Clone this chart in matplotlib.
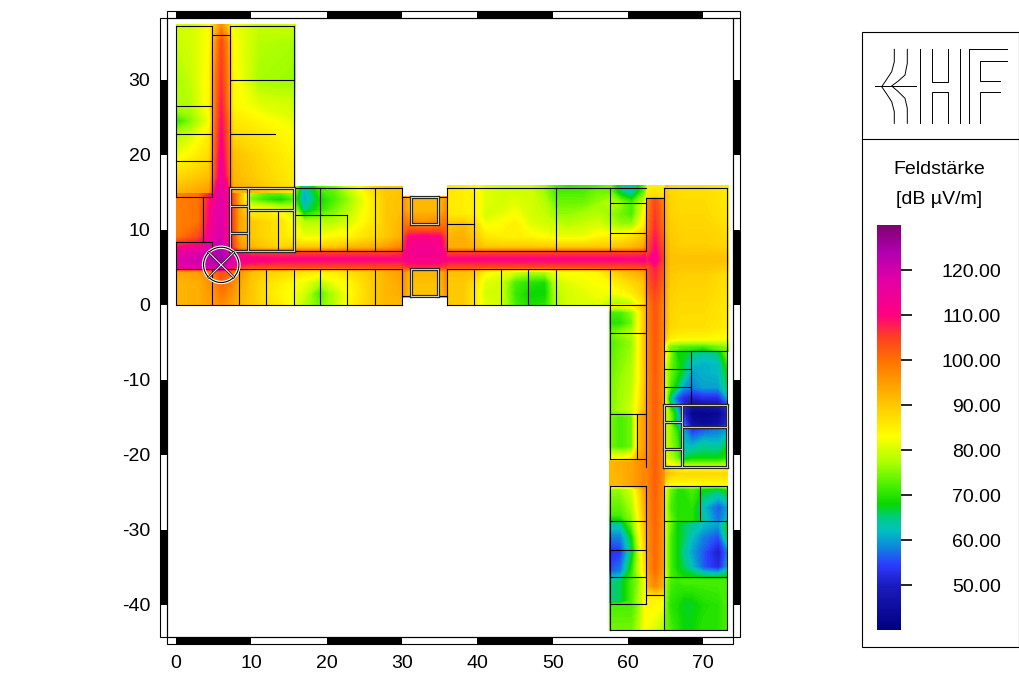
import numpy as np
import matplotlib
matplotlib.use("Agg")
import matplotlib.pyplot as plt
from matplotlib.colors import LinearSegmentedColormap, Normalize
from matplotlib.cm import ScalarMappable
from matplotlib.patches import Rectangle, Circle

plt.rcParams["font.family"] = ["Liberation Sans", "DejaVu Sans"]
plt.rcParams["axes.unicode_minus"] = False

# ----- field strength in dB uV/m, one block per building part -----
north_x = [0, 2, 4.4, 5.2, 6, 6.8, 7.6, 11, 15.8]
north_y = [37.4, 35, 30, 26.5, 24.5, 22.5, 20, 17, 15]
north_db = [
    [80, 80, 83, 90, 96, 90, 82, 79, 80],
    [79, 80, 83, 95, 104, 97, 83, 78, 77],
    [77, 79, 84, 98, 106, 99, 84, 77, 76],
    [78, 78, 84, 99, 108, 100, 84, 81, 80],
    [70, 75, 82, 100, 109, 102, 86, 84, 81],
    [78, 80, 85, 101, 110, 103, 88, 86, 83],
    [81, 84, 87, 102, 112, 104, 91, 88, 84],
    [88, 89, 91, 104, 114, 106, 92, 89, 85],
    [92, 93, 95, 110, 117, 112, 93, 91, 86],
]

west_x = [0, 3, 5, 6, 7, 8.4, 10, 12, 14, 15.6, 17, 19, 21, 23, 26.4, 28, 30]
west_y = [15.8, 14, 12.6, 11, 9, 7.6, 6.9, 6, 5, 4.4, 3, 1.5, 0]
west_db = [
    [97, 100, 110, 116, 108, 93, 80, 76, 78, 80, 62, 72, 74, 80, 88, 90, 90],
    [98, 100, 112, 118, 110, 93, 74, 70, 68, 72, 60, 68, 72, 76, 86, 90, 91],
    [98, 100, 114, 118, 110, 94, 84, 84, 82, 80, 64, 70, 74, 78, 86, 90, 91],
    [98, 100, 115, 118, 110, 94, 90, 88, 86, 82, 78, 78, 78, 80, 86, 90, 92],
    [99, 104, 116, 119, 110, 94, 90, 88, 86, 84, 82, 82, 84, 84, 88, 90, 93],
    [110, 112, 120, 122, 112, 96, 92, 90, 88, 90, 90, 90, 90, 92, 93, 95, 98],
    [116, 118, 122, 124, 118, 108, 105, 105, 105, 105, 105, 105, 105, 105, 105, 105, 106],
    [118, 120, 123, 125, 120, 114, 112, 111, 110, 110, 110, 110, 110, 110, 110, 110, 110],
    [116, 118, 120, 122, 114, 106, 104, 104, 104, 104, 104, 104, 104, 104, 104, 104, 104],
    [94, 95, 100, 104, 102, 96, 91, 89, 88, 87, 86, 85, 85, 87, 90, 93, 95],
    [92, 93, 97, 101, 99, 94, 90, 87, 85, 83, 82, 78, 82, 84, 90, 92, 94],
    [92, 93, 96, 99, 97, 93, 90, 86, 84, 82, 80, 72, 78, 83, 90, 92, 93],
    [92, 93, 95, 97, 95, 92, 90, 87, 85, 82, 78, 74, 78, 84, 90, 92, 92],
]

link_x = [30, 31, 33, 35, 36]
link_y = [14.4, 12.5, 10.8, 9, 7.6, 6.9, 6, 5, 4.4, 3, 1]
link_db = [
    [96, 92, 92, 92, 96],
    [97, 92, 92, 92, 97],
    [100, 98, 96, 98, 100],
    [103, 110, 111, 110, 103],
    [105, 112, 113, 112, 105],
    [108, 113, 113, 113, 108],
    [110, 112, 112, 112, 110],
    [105, 106, 107, 106, 105],
    [98, 92, 92, 92, 98],
    [97, 91, 91, 91, 97],
    [96, 91, 91, 91, 96],
]

east_x = [36, 38, 39.6, 41, 43, 45, 47, 49, 50.4, 52, 54, 56, 57.6, 59, 60.5, 62, 63]
east_y = [15.9, 15, 13.5, 12, 10.7, 9, 7.6, 6.9, 6, 5, 4.4, 3, 1.5, 0]
east_db = [
    [86, 85, 84, 81, 80, 80, 80, 76, 72, 70, 71, 72, 74, 65, 62, 72, 80],
    [86, 85, 84, 81, 80, 80, 80, 76, 72, 72, 72, 74, 74, 66, 62, 72, 82],
    [86, 85, 85, 81, 80, 81, 80, 78, 74, 74, 74, 76, 78, 76, 72, 80, 90],
    [86, 85, 85, 80, 81, 83, 80, 79, 76, 76, 77, 78, 76, 74, 72, 82, 92],
    [90, 91, 88, 82, 83, 85, 81, 80, 79, 78, 79, 80, 78, 76, 76, 84, 94],
    [92, 93, 90, 86, 85, 85, 84, 83, 82, 82, 82, 84, 85, 85, 87, 90, 98],
    [93, 93, 92, 90, 90, 90, 90, 90, 90, 90, 90, 90, 90, 91, 92, 94, 103],
    [105, 105, 105, 105, 105, 105, 105, 105, 105, 105, 105, 105, 105, 105, 105, 105, 108],
    [110, 110, 110, 110, 110, 110, 110, 110, 110, 110, 110, 110, 110, 110, 110, 111, 112],
    [104, 104, 104, 104, 104, 104, 104, 104, 104, 104, 104, 104, 104, 104, 104, 104, 106],
    [91, 91, 90, 84, 82, 80, 78, 78, 82, 83, 83, 84, 88, 90, 92, 94, 101],
    [90, 90, 87, 81, 80, 72, 70, 69, 79, 81, 82, 83, 84, 86, 88, 90, 100],
    [90, 90, 86, 80, 80, 71, 68, 68, 78, 80, 81, 82, 82, 83, 85, 89, 100],
    [90, 90, 86, 81, 80, 72, 69, 70, 77, 80, 81, 81, 77, 76, 78, 85, 100],
]

hall_x = [64.8, 65.5, 67, 70, 73.3]
hall_y = [15.9, 12, 8, 6, 4, -3, -4.5, -5.5, -6.2]
hall_db = [
    [92, 88, 87, 87, 85],
    [93, 89, 88, 88, 86],
    [95, 90, 89, 89, 88],
    [96, 91, 91, 91, 91],
    [95, 90, 89, 89, 87],
    [94, 88, 87, 87, 85],
    [92, 85, 84, 84, 83],
    [85, 75, 73, 72, 76],
    [85, 74, 70, 66, 74],
]

corridor_x = [62.4, 63.6, 64.8]
corridor_y = [15.9, 14.3, 14, 10, 7, 6, 5, 0, -10, -20, -22, -30, -35, -37.5, -38.7, -39, -43.4]
corridor_db = [
    [84, 85, 84],
    [87, 88, 87],
    [96, 104, 97],
    [98, 107, 99],
    [103, 110, 103],
    [108, 112, 104],
    [103, 108, 102],
    [97, 103, 97],
    [96, 102, 96],
    [96, 102, 96],
    [97, 102, 96],
    [95, 101, 95],
    [94, 101, 94],
    [92, 97, 92],
    [86, 88, 86],
    [85, 85, 84],
    [82, 80, 76],
]

south_x = [57.6, 59, 60.5, 61.5, 62.4]
south_y = [0, -1, -2.5, -3.8, -5, -10, -14, -15, -19, -20.6, -21, -24, -24.6, -28, -29.2,
           -31, -33, -35.5, -37, -39.5, -40, -43.4]
south_db = [
    [85, 84, 85, 88, 93],
    [72, 72, 76, 84, 92],
    [70, 70, 74, 84, 92],
    [74, 76, 78, 84, 92],
    [72, 74, 76, 84, 92],
    [74, 76, 78, 84, 92],
    [75, 77, 80, 86, 93],
    [74, 72, 74, 92, 96],
    [74, 72, 74, 92, 96],
    [84, 84, 86, 94, 97],
    [92, 93, 94, 96, 98],
    [92, 92, 94, 96, 98],
    [76, 76, 80, 88, 96],
    [72, 72, 76, 85, 94],
    [64, 64, 74, 84, 93],
    [58, 58, 68, 82, 92],
    [53, 54, 66, 80, 90],
    [56, 58, 70, 80, 88],
    [65, 66, 72, 76, 83],
    [65, 66, 72, 78, 84],
    [72, 72, 72, 76, 84],
    [74, 74, 74, 78, 84],
]

rooms_x = [64.8, 65.6, 66.5, 67.4, 68.5, 70, 72, 73.2]
rooms_y = [-6.2, -8, -9, -11, -12.5, -13.4, -14.5, -16, -16.8, -18.5, -20.5, -21.5, -22.5,
           -24, -24.6, -27, -28.7, -29.2, -31, -33, -35, -36.2, -36.8, -40, -43.4]
rooms_db = [
    [90, 76, 68, 68, 66, 64, 66, 76],
    [82, 74, 70, 66, 62, 61, 62, 70],
    [80, 74, 70, 66, 60, 61, 62, 68],
    [82, 72, 66, 60, 58, 60, 60, 66],
    [84, 64, 56, 52, 50, 52, 52, 60],
    [86, 68, 60, 52, 46, 47, 48, 54],
    [82, 74, 65, 52, 42, 42, 43, 50],
    [80, 76, 64, 58, 46, 44, 46, 52],
    [80, 76, 70, 60, 54, 56, 58, 60],
    [80, 76, 72, 62, 60, 63, 62, 66],
    [82, 78, 74, 66, 68, 68, 68, 70],
    [88, 84, 82, 78, 78, 78, 78, 80],
    [92, 90, 88, 88, 88, 88, 88, 88],
    [86, 83, 83, 83, 83, 83, 83, 83],
    [82, 74, 70, 70, 72, 68, 66, 70],
    [80, 72, 70, 70, 70, 62, 56, 60],
    [80, 74, 70, 70, 70, 64, 57, 62],
    [80, 74, 68, 66, 64, 62, 60, 68],
    [80, 72, 68, 66, 62, 58, 55, 66],
    [80, 72, 68, 64, 60, 56, 50, 58],
    [80, 72, 68, 66, 62, 56, 52, 60],
    [82, 72, 70, 68, 68, 66, 66, 68],
    [78, 72, 71, 72, 72, 72, 72, 72],
    [76, 70, 69, 67, 67, 69, 70, 72],
    [74, 72, 70, 68, 68, 70, 70, 72],
]

# ----- walls: (x1, y1, x2, y2) -----
walls = [
    (0, 14.4, 0, 37.2), (0, 37.2, 4.8, 37.2), (4.8, 14.4, 4.8, 37.2), (0, 14.4, 4.8, 14.4),
    (0, 26.5, 4.8, 26.5), (0, 22.7, 4.8, 22.7), (0, 19.1, 4.8, 19.1), (4.8, 35.9, 7.2, 35.9),
    (7.2, 15.6, 7.2, 37.2), (7.2, 37.2, 15.6, 37.2), (15.6, 15.6, 15.6, 37.2),
    (7.2, 30, 15.6, 30), (7.2, 22.7, 13.2, 22.7),
    (3.6, 8.35, 3.6, 14.4), (0, 8.35, 4.8, 8.35), (4.8, 7.2, 4.8, 8.35), (0, 0, 0, 8.35),
    (0, 4.75, 30, 4.75), (0, 0, 30, 0), (4.8, 0, 4.8, 4.75), (8.4, 0, 8.4, 4.75),
    (12, 0, 12, 4.75), (15.6, 0, 15.6, 4.75), (19.1, 0, 19.1, 4.75), (22.7, 0, 22.7, 4.75),
    (26.4, 0, 26.4, 4.75), (30, 0, 30, 4.75),
    (15.6, 7.2, 30, 7.2), (15.6, 15.6, 30, 15.6), (19.1, 7.2, 19.1, 15.6), (26.4, 7.2, 26.4, 15.6),
    (30, 7.2, 30, 15.6), (15.6, 11.9, 22.7, 11.9), (22.7, 7.2, 22.7, 11.9), (13.6, 7.2, 13.6, 12.6),
    (30, 14.3, 31.2, 14.3), (34.8, 14.3, 36, 14.3), (30, 1.1, 31.2, 1.1), (34.8, 1.1, 36, 1.1),
    (36, 7.15, 62.4, 7.15), (36, 15.5, 62.4, 15.5), (36, 7.15, 36, 15.5), (39.6, 7.15, 39.6, 15.5),
    (50.4, 7.15, 50.4, 15.5), (57.6, 7.15, 57.6, 15.5), (62.4, 7.15, 62.4, 14.2),
    (36, 10.7, 39.6, 10.7), (57.6, 13.5, 62.4, 13.5), (57.6, 9.5, 62.4, 9.5),
    (36, 4.75, 62.4, 4.75), (36, 0, 62.4, 0), (36, 0, 36, 4.75), (39.6, 0, 39.6, 4.75),
    (43.1, 0, 43.1, 4.75), (46.7, 0, 46.7, 4.75), (50.4, 0, 50.4, 4.75), (57.6, 0, 57.6, 4.75),
    (62.4, 14.2, 64.8, 14.2), (64.8, 15.5, 73.1, 15.5), (64.8, -21.7, 64.8, 15.5),
    (73.1, -13.4, 73.1, 15.5), (64.8, -6.2, 73.1, -6.2),
    (62.4, -21.7, 62.4, 4.75), (57.6, -20.6, 57.6, 0), (57.6, -3.8, 62.4, -3.8),
    (57.6, -14.6, 62.4, -14.6), (61.2, -20.6, 61.2, -14.6), (57.6, -20.6, 62.4, -20.6),
    (68.3, -13.4, 68.3, -6.2), (64.8, -8.6, 68.3, -8.6), (64.8, -11, 68.3, -11),
    (57.6, -43.4, 57.6, -24.2), (62.4, -39.9, 62.4, -24.2), (57.6, -24.2, 62.4, -24.2),
    (57.6, -28.9, 62.4, -28.9), (57.6, -32.7, 62.4, -32.7), (57.6, -36.3, 62.4, -36.3),
    (57.6, -39.9, 62.4, -39.9), (62.4, -38.7, 64.8, -38.7), (57.6, -43.4, 73.1, -43.4),
    (64.8, -43.4, 64.8, -24.2), (64.8, -24.2, 73.1, -24.2), (69.5, -28.9, 69.5, -24.2),
    (64.8, -28.9, 73.1, -28.9), (64.8, -36.3, 73.1, -36.3), (73.1, -43.4, 73.1, -24.2),
]

double_walls = [
    (7.2, 7.2, 15.6, 7.2), (7.2, 15.6, 15.6, 15.6), (7.2, 7.2, 7.2, 15.6), (15.6, 7.2, 15.6, 15.6),
    (9.6, 7.2, 9.6, 15.6), (9.6, 12.6, 15.6, 12.6), (7.2, 13.1, 9.6, 13.1), (7.2, 9.55, 9.6, 9.55),
    (31.2, 14.4, 34.8, 14.4), (31.2, 10.75, 34.8, 10.75), (31.2, 10.75, 31.2, 14.4), (34.8, 10.75, 34.8, 14.4),
    (31.2, 4.8, 34.8, 4.8), (31.2, 1.1, 34.8, 1.1), (31.2, 1.1, 31.2, 4.8), (34.8, 1.1, 34.8, 4.8),
    (64.8, -13.4, 73.1, -13.4), (64.8, -21.7, 73.1, -21.7), (64.8, -21.7, 64.8, -13.4), (73.1, -21.7, 73.1, -13.4),
    (67.2, -21.7, 67.2, -13.4), (67.2, -16.3, 73.1, -16.3), (64.8, -15.7, 67.2, -15.7), (64.8, -19.3, 67.2, -19.3),
]

x_ticks = [0, 10, 20, 30, 40, 50, 60, 70]
y_ticks = [-40, -30, -20, -10, 0, 10, 20, 30]
x_black = [(0, 10), (20, 30), (40, 50), (60, 70)]
y_black = [(20, 30), (0, 10), (-20, -10), (-40, -30)]
scale_ticks = [50, 60, 70, 80, 90, 100, 110, 120]
tx_pos = (6, 5.3)

# colour scale as on the legend bar
scale_min, scale_max = 40, 130
scale_stops = [
    (40, "#000080"), (50, "#1c1cc0"), (54.5, "#2c3cff"), (58, "#1080e0"), (62, "#00c0c0"),
    (65, "#00cc80"), (68, "#08d800"), (72, "#48f000"), (77, "#a8ff00"), (83, "#ffff00"),
    (90, "#ffc800"), (100, "#ff7000"), (105, "#ff4020"), (110, "#ff0080"), (118, "#e000a8"),
    (124, "#b000b0"), (130, "#800070"),
]
cmap = LinearSegmentedColormap.from_list(
    "feld", [((v - scale_min) / (scale_max - scale_min), c) for v, c in scale_stops], N=512)
norm = Normalize(scale_min, scale_max)

# ----- Figure -----
fig = plt.figure(figsize=(10.2, 6.78), dpi=100)
ax = fig.add_axes([167 / 1020, (678 - 637) / 678, 566.5 / 1020, 619 / 678])
ax.set_xlim(-1.2, 74.0)
ax.set_ylim(-44.3, 38.2)

levels = np.arange(scale_min, scale_max + 0.5, 0.5)
blocks = [
    (west_x, west_y, west_db), (link_x, link_y, link_db), (east_x, east_y, east_db),
    (north_x, north_y, north_db), (hall_x, hall_y, hall_db), (south_x, south_y, south_db),
    (rooms_x, rooms_y, rooms_db), (corridor_x, corridor_y, corridor_db),
]
for bx, by, bz in blocks:
    ax.contourf(bx, by, bz, levels=levels, cmap=cmap, norm=norm, antialiased=False, zorder=1)

for x1, y1, x2, y2 in walls:
    ax.plot([x1, x2], [y1, y2], color="black", lw=0.8, solid_capstyle="projecting", zorder=3)
for x1, y1, x2, y2 in double_walls:
    ax.plot([x1, x2], [y1, y2], color="#202020", lw=2.3, solid_capstyle="projecting", zorder=4)
for x1, y1, x2, y2 in double_walls:
    ax.plot([x1, x2], [y1, y2], color="#c8c8c8", lw=0.8, solid_capstyle="projecting", zorder=5)

# transmitter symbol
r = 2.35
ax.add_patch(Circle(tx_pos, r, fc="none", ec="white", lw=2.4, zorder=6))
ax.add_patch(Circle(tx_pos, r, fc="none", ec="black", lw=0.8, zorder=7))
d = r * 0.7
for sx in (-1, 1):
    ax.plot([tx_pos[0] - sx * d, tx_pos[0] + sx * d], [tx_pos[1] - d, tx_pos[1] + d],
            color="#301030", lw=1.8, zorder=6)
    ax.plot([tx_pos[0] - sx * d, tx_pos[0] + sx * d], [tx_pos[1] - d, tx_pos[1] + d],
            color="white", lw=0.7, zorder=7)

ax.set_xticks(x_ticks)
ax.set_yticks(y_ticks)
ax.tick_params(length=0, labelsize=14)
ax.tick_params(axis="x", pad=13)
ax.tick_params(axis="y", pad=12)
for s in ax.spines.values():
    s.set_linewidth(0.8)

# black and white strips round the plot
th_x = 7 / 566.5
th_y = 7 / 619
xt = ax.get_xaxis_transform()
yt = ax.get_yaxis_transform()
for a, b in x_black:
    ax.add_patch(Rectangle((a, 1), b - a, th_y, transform=xt, color="black", clip_on=False, lw=0))
    ax.add_patch(Rectangle((a, -th_y), b - a, th_y, transform=xt, color="black", clip_on=False, lw=0))
for a, b in y_black:
    ax.add_patch(Rectangle((-th_x, a), th_x, b - a, transform=yt, color="black", clip_on=False, lw=0))
    ax.add_patch(Rectangle((1, a), th_x, b - a, transform=yt, color="black", clip_on=False, lw=0))

# overlay in pixels for frame strips, logo and legend box
ov = fig.add_axes([0, 0, 1, 1], facecolor="none")
ov.set_xlim(0, 1020)
ov.set_ylim(678, 0)
ov.axis("off")
for px, py, w, h in [(167, 11, 573, 7), (733.5, 18, 7, 619), (167, 637, 566.5, 7), (160, 18, 7, 619)]:
    ov.add_patch(Rectangle((px, py), w, h, fc="none", ec="black", lw=0.8))

ov.add_patch(Rectangle((862.5, 31.5), 157, 615.5, fc="none", ec="black", lw=0.8))
ov.plot([862.5, 1019.5], [139, 139], color="black", lw=0.8)

# logo, coordinates in pixels
logo_lines = [
    ([894.3, 894.3, 891.7, 886.7, 881.7, 886.7, 891.7, 894.3, 894.3],
     [49.3, 61.7, 71.7, 79.3, 86.7, 94, 101.7, 111.7, 123.3]),
    ([907.3, 907.3, 905, 898.3, 891.7, 898.3, 905, 907.3, 907.3],
     [49.3, 63.3, 75, 81, 86, 91.7, 98.3, 108.3, 123.3]),
    ([875, 915.7], [86, 86]),
    ([920.3, 920.3], [49.3, 123.3]),
    ([932.3, 932.3, 948, 948], [49.3, 81.7, 81.7, 49.3]),
    ([932.3, 932.3, 948, 948], [123.3, 91.7, 91.7, 123.3]),
    ([959.7, 959.7], [49.3, 123.3]),
    ([1006.7, 968.7, 968.7], [49.3, 49.3, 123.3]),
    ([1006.7, 980.3, 980.3, 1000], [61.3, 61.3, 81, 81]),
    ([1000, 980.3, 980.3], [92.3, 92.3, 123.3]),
]
for lx, ly in logo_lines:
    ov.plot(lx, ly, color="black", lw=0.7)

ov.text(939.5, 170, "Feldstärke", ha="center", va="center", fontsize=14)
ov.text(939.5, 200, "[dB µV/m]", ha="center", va="center", fontsize=14)

# legend colour bar
cax = fig.add_axes([877 / 1020, (678 - 630) / 678, 24 / 1020, 405 / 678])
cb = fig.colorbar(ScalarMappable(norm=norm, cmap=cmap), cax=cax, ticks=scale_ticks)
cb.outline.set_visible(False)
cax.tick_params(length=8, width=1.2, labelright=False, color="black")
for v in scale_ticks:
    cax.text((1001 - 877) / 24, v - 0.45, "%.2f" % v, transform=cax.get_yaxis_transform(),
             ha="right", va="center", fontsize=14)

plt.savefig("out.png", dpi=100)
